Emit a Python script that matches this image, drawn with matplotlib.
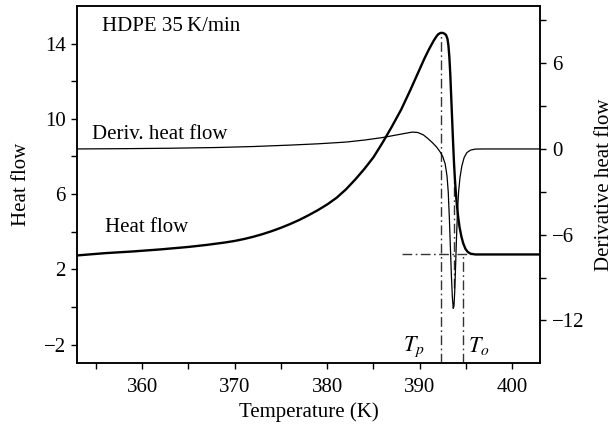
import numpy as np
import matplotlib
matplotlib.use("Agg")
import matplotlib.pyplot as plt
from matplotlib.ticker import FixedLocator

plt.rcParams['font.family'] = ['Liberation Serif', 'DejaVu Serif']
plt.rcParams['mathtext.fontset'] = 'stix'
plt.rcParams['axes.unicode_minus'] = True

# heat flow (left axis)
temp_hf = [353.0, 356.0, 359.0, 362.0, 365.0, 367.0, 369.0, 370.0, 371.0, 372.0,
           373.0, 374.0, 375.0, 376.0, 377.0, 378.0, 379.0, 380.0, 381.0, 382.0,
           383.0, 384.0, 385.0, 386.0, 387.0, 388.0, 389.0, 390.0, 390.5, 391.0,
           391.5, 391.8, 392.0, 392.25, 392.5, 392.7, 392.85, 393.0, 393.1, 393.2,
           393.3, 393.4, 393.5, 393.6, 393.7, 393.8, 393.9, 394.0, 394.15, 394.3,
           394.5, 394.7, 394.95, 395.2, 395.5, 396.0, 403.0]
heat_flow = [2.74, 2.86, 2.95, 3.06, 3.19, 3.30, 3.43, 3.51, 3.61, 3.73,
             3.87, 4.03, 4.21, 4.41, 4.63, 4.88, 5.15, 5.45, 5.80, 6.24,
             6.76, 7.33, 7.96, 8.75, 9.60, 10.5, 11.55, 12.65, 13.2, 13.7,
             14.15, 14.38, 14.5, 14.57, 14.57, 14.52, 14.45, 14.25, 13.9, 13.3,
             12.4, 11.2, 10.0, 8.8, 7.7, 6.8, 6.1, 5.5, 4.8, 4.25,
             3.75, 3.38, 3.08, 2.92, 2.83, 2.79, 2.79]

# derivative heat flow (right axis)
temp_dhf = [353.0, 358.0, 363.0, 368.0, 372.0, 376.0, 379.0, 382.0, 384.0, 386.0,
            387.5, 388.5, 389.2, 389.8, 390.4, 390.9, 391.4, 391.8, 392.2, 392.5,
            392.75, 392.95, 393.08, 393.2, 393.32, 393.43, 393.53, 393.62, 393.7, 393.78,
            393.87, 393.97, 394.08, 394.2, 394.35, 394.55, 394.8, 395.1, 395.5, 396.0,
            397.0, 403.0]
deriv_hf = [0.0, 0.02, 0.05, 0.10, 0.17, 0.27, 0.36, 0.48, 0.62, 0.80,
            0.98, 1.10, 1.18, 1.15, 0.98, 0.72, 0.42, 0.15, -0.2, -0.55,
            -1.05, -1.9, -3.0, -4.8, -7.0, -9.0, -10.4, -11.15, -11.0, -10.0,
            -8.3, -6.3, -4.4, -3.0, -2.0, -1.2, -0.6, -0.25, -0.08, -0.01,
            0.0, 0.0]

t_peak = 392.25
t_onset = 394.66
t_min = 393.72
hf_base = 2.79
hf_peak = 14.57

fig = plt.figure(figsize=(6.13, 4.30), dpi=100)
ax = fig.add_axes([0.1264, 0.155, 0.7545, 0.831])
ax2 = ax.twinx()

ax.plot(temp_hf, heat_flow, color='black', lw=1.7, zorder=3)
ax2.plot(temp_dhf, deriv_hf, color='black', lw=0.9, zorder=3)

dd = (0, (7, 2.5, 1.2, 2.5))
ax.plot([t_peak, t_peak], [-3, hf_peak], color='#333333', lw=1.0, linestyle=dd)
ax.plot([t_onset, t_onset], [-3, hf_base], color='#333333', lw=1.0, linestyle=dd)
ax.plot([t_min, t_min], [1.0, 6.7], color='#333333', lw=1.0, linestyle=dd)
ax.plot([388.1, 395.5], [hf_base, hf_base], color='#333333', lw=1.0, linestyle=dd)

ax.set_xlim(353, 403)
ax.set_ylim(-3, 16)
ax2.set_ylim(-15, 10)

ax.xaxis.set_major_locator(FixedLocator([360, 370, 380, 390, 400]))
ax.xaxis.set_minor_locator(FixedLocator([355, 365, 375, 385, 395]))
ax.yaxis.set_major_locator(FixedLocator([-2, 2, 6, 10, 14]))
ax.yaxis.set_minor_locator(FixedLocator([0, 4, 8, 12]))
ax2.yaxis.set_major_locator(FixedLocator([-12, -6, 0, 6]))
ax2.yaxis.set_minor_locator(FixedLocator([-9, -3, 3, 9]))

fs = 15
for a in (ax, ax2):
    a.tick_params(which='both', direction='out', length=4.5, width=1.0,
                  labelsize=fs, pad=4)
    for s in a.spines.values():
        s.set_linewidth(1.1)
ax.tick_params(axis='x', pad=6)

ax.set_xlabel('Temperature (K)', fontsize=fs)
ax.set_ylabel('Heat flow', fontsize=fs)
ax2.set_ylabel('Derivative heat flow', fontsize=fs)
ax.xaxis.set_label_coords(0.5, -0.11)
ax.yaxis.set_label_coords(-0.10, 0.5)
ax2.yaxis.set_label_coords(1.118, 0.5)

ax.text(355.7, 14.9, 'HDPE 35\u2009K/min', fontsize=fs, va='center', ha='left')
ax.text(354.6, 9.17, 'Deriv. heat flow', fontsize=fs, va='center', ha='left')
ax.text(356.0, 4.24, 'Heat flow', fontsize=fs, va='center', ha='left')
ax.text(389.4, -2.1, '$T_p$', fontsize=fs + 1, va='center', ha='center')
ax.text(396.4, -2.1, '$T_o$', fontsize=fs + 1, va='center', ha='center')

fig.savefig('out.png', dpi=100)
